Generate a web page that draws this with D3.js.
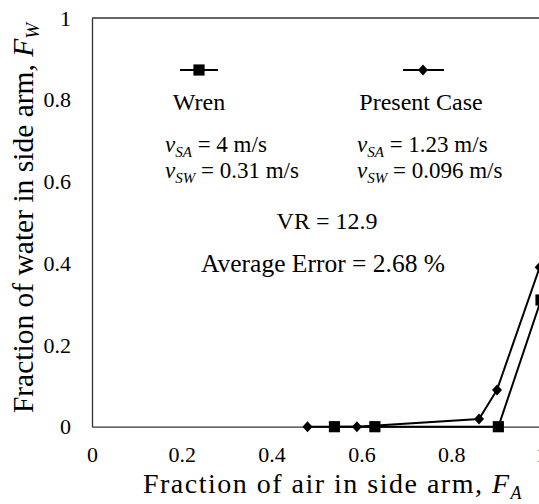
<!DOCTYPE html>
<html>
<head>
<meta charset="utf-8">
<script src="https://cdn.jsdelivr.net/npm/d3@7"></script>
<style>
  body { margin: 0; background: #fff; }
  svg text { font-family: "Liberation Serif", "Times New Roman", Times, serif !important; }
</style>
</head>
<body>
<script>
// values
let wrenX = [0.54, 0.63, 0.905, 1.0]
let wrenY = [0, 0, 0, 0.31]
let presentX = [0.48, 0.59, 0.862, 0.902, 0.997]
let presentY = [0, 0, 0.019, 0.09, 0.39]
let tickValues = [0, 0.2, 0.4, 0.6, 0.8, 1]
let tickLabels = ["0", "0.2", "0.4", "0.6", "0.8", "1"]

let width = 539
let height = 504
let plotLeft = 92, plotRight = 541, plotTop = 18, plotBottom = 426.7

let svg = d3.select("body").append("svg")
    .attr("width", width)
    .attr("height", height)
    .style("display", "block")

let xScale = d3.scaleLinear().domain([0, 1]).range([plotLeft, plotRight])
let yScale = d3.scaleLinear().domain([0, 1]).range([plotBottom, plotTop])

let xAxis = d3.axisBottom(xScale)
    .tickValues(tickValues)
    .tickSize(0)
    .tickPadding(0)
    .tickFormat((d, i) => tickLabels[i])
let yAxis = d3.axisLeft(yScale)
    .tickValues(tickValues)
    .tickSize(0)
    .tickPadding(21)
    .tickFormat((d, i) => tickLabels[i])

let gx = svg.append("g")
    .attr("transform", "translate(0," + plotBottom + ")")
    .call(xAxis)
gx.attr("font-family", null).attr("font-size", 22)
gx.select(".domain").attr("stroke", "#333").attr("stroke-width", 1.3)
gx.selectAll("text")
    .attr("dy", null)
    .attr("y", 35)
    .attr("fill", "#000")

let gy = svg.append("g")
    .attr("transform", "translate(" + plotLeft + ",0)")
    .call(yAxis)
gy.attr("font-family", null).attr("font-size", 22)
gy.select(".domain").attr("stroke", "#333").attr("stroke-width", 1.3)
gy.selectAll("text")
    .attr("fill", "#000")

// top border of the plot box
svg.append("line")
    .attr("x1", plotLeft).attr("x2", plotRight)
    .attr("y1", plotTop).attr("y2", plotTop)
    .attr("stroke", "#333").attr("stroke-width", 1.3)

let wren = wrenX.map((x, i) => [x, wrenY[i]])
let present = presentX.map((x, i) => [x, presentY[i]])

let line = d3.line().x(d => xScale(d[0])).y(d => yScale(d[1]))

svg.append("path").datum(wren)
    .attr("d", line).attr("fill", "none")
    .attr("stroke", "#000").attr("stroke-width", 2)
svg.append("path").datum(present)
    .attr("d", line).attr("fill", "none")
    .attr("stroke", "#000").attr("stroke-width", 2)

let square = d3.symbol().type(d3.symbolSquare).size(125)
let diamond = "M0,-5.5L5,0L0,5.5L-5,0Z"

svg.selectAll("path.sq").data(wren).enter()
    .append("path").attr("class", "sq")
    .attr("d", square)
    .attr("transform", d => "translate(" + xScale(d[0]) + "," + yScale(d[1]) + ")")
svg.selectAll("path.dm").data(present).enter()
    .append("path").attr("class", "dm")
    .attr("d", diamond)
    .attr("transform", d => "translate(" + xScale(d[0]) + "," + yScale(d[1]) + ")")

// legend
svg.append("line").attr("x1", 180).attr("x2", 218).attr("y1", 70).attr("y2", 70)
    .attr("stroke", "#000").attr("stroke-width", 2.2)
svg.append("path").attr("d", square).attr("transform", "translate(199,70)")
svg.append("line").attr("x1", 403).attr("x2", 444).attr("y1", 70).attr("y2", 70)
    .attr("stroke", "#000").attr("stroke-width", 2.2)
svg.append("path").attr("d", diamond).attr("transform", "translate(423,70)")

let txt = (x, y, anchor, size) => svg.append("text")
    .attr("x", x).attr("y", y)
    .attr("text-anchor", anchor)
    .style("font-size", size + "px")

txt(199, 110, "middle", 24).text("Wren")
txt(421, 110, "middle", 24).text("Present Case")

function vel(x, y, sub, val) {
    let t = txt(x, y, "start", 23)
    t.append("tspan").style("font-style", "italic").text("v")
    t.append("tspan").style("font-style", "italic").style("font-size", "15px")
        .attr("dy", 5).text(sub)
    t.append("tspan").attr("dy", -5).text(" = " + val)
}
vel(165, 152, "SA", "4 m/s")
vel(165, 178, "SW", "0.31 m/s")
vel(357, 152, "SA", "1.23 m/s")
vel(357, 178, "SW", "0.096 m/s")

txt(327, 229, "middle", 24).text("VR = 12.9")
txt(323, 272, "middle", 25.5).text("Average Error = 2.68 %")

// axis titles
let xt = svg.append("text")
    .attr("x", 333).attr("y", 493)
    .attr("text-anchor", "middle")
    .style("font-size", "28px")
    .style("letter-spacing", "1.5px")
    .text("Fraction of air in side arm, ")
xt.append("tspan").style("font-style", "italic").text("F")
xt.append("tspan").style("font-style", "italic").style("font-size", "18px")
    .attr("dy", 6).text("A")

let yt = svg.append("text")
    .attr("transform", "translate(33,218) rotate(-90)")
    .attr("text-anchor", "middle")
    .style("font-size", "29.5px")
    .text("Fraction of water in side arm, ")
yt.append("tspan").style("font-style", "italic").text("F")
yt.append("tspan").style("font-style", "italic").style("font-size", "19px")
    .attr("dy", 6).text("W")
</script>
</body>
</html>
